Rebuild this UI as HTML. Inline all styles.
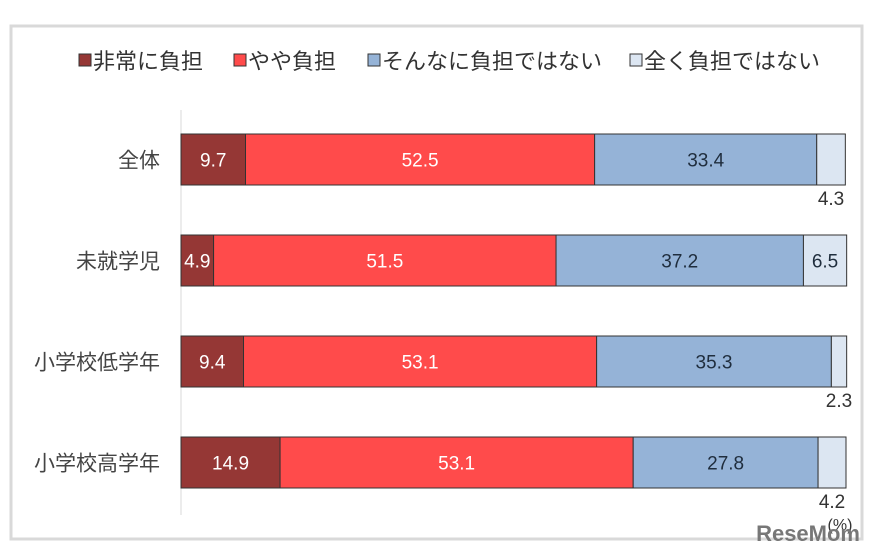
<!DOCTYPE html>
<html><head><meta charset="utf-8"><style>
body{margin:0;background:#fff;}
svg text{font-family:"Liberation Sans","Noto Sans CJK JP",sans-serif;}
</style></head><body>
<svg width="890" height="554">
<rect x="11" y="26" width="851" height="513" fill="#fff" stroke="#d9d9d9" stroke-width="3"/>
<g id="legend"></g>
<line x1="181" y1="110" x2="181" y2="515" stroke="#d9d9d9"/>
<g id="bars"></g>
<text x="840" y="530" font-size="16" fill="#333" text-anchor="middle">(%)</text>
<text x="860" y="541" font-size="22" font-weight="bold" fill="#777" text-anchor="end">ReseMom</text>
</svg>
<script>
const categories=["全体","未就学児","小学校低学年","小学校高学年"];
const seriesNames=["非常に負担","やや負担","そんなに負担ではない","全く負担ではない"];
const s1=[9.7,4.9,9.4,14.9];
const s2=[52.5,51.5,53.1,53.1];
const s3=[33.4,37.2,35.3,27.8];
const s4=[4.3,6.5,2.3,4.2];
const colors=["#953735","#ff4b4b","#95b3d7","#dce6f2"];
const textColors=["#fff","#fff","#1f2d3d","#1f2d3d"];
const series=[s1,s2,s3,s4];
const NS="http://www.w3.org/2000/svg";
const x0=181,x1=846;
const xs=v=>x0+v*(x1-x0)/100;
const barTop=i=>134+i*101, barH=51;
const g=document.getElementById('bars');
function mk(t,a,p){const e=document.createElementNS(NS,t);for(const k in a)e.setAttribute(k,a[k]);p.appendChild(e);return e;}
categories.forEach((c,i)=>{
  const y=barTop(i);
  const lab=mk('text',{x:160,y:y+barH/2+8,'font-size':21,fill:'#444','text-anchor':'end'},g);
  lab.textContent=c;
  
  
  let cum=0;
  series.forEach((s,j)=>{
    const v=s[i];const a=xs(cum),b=xs(cum+v);cum+=v;
    const r=mk('rect',{x:a,y:y,width:b-a,height:barH,fill:colors[j],stroke:'#333','stroke-width':1},g);
    
    
    const t=mk('text',{'font-size':19,'text-anchor':'middle'},g);
    t.textContent=v.toFixed(1);
    
    
    if(j===3&&v<5){t.setAttribute('x',(a+b)/2);t.setAttribute('y',y+barH+20);t.setAttribute('fill','#333');}
    else{t.setAttribute('x',(a+b)/2);t.setAttribute('y',y+barH/2+7);t.setAttribute('fill',textColors[j]);}
  });
});
const lg=document.getElementById('legend');
const lx=[79,234,368,630];
seriesNames.forEach((n,j)=>{
  const r=mk('rect',{x:lx[j],y:54,width:12,height:12,fill:colors[j],stroke:'#333','stroke-width':1},lg);
  
  
  const t=mk('text',{x:lx[j]+14,y:69,'font-size':22,fill:'#333'},lg);
  t.textContent=n;
  
  
});
</script>
</body></html>
